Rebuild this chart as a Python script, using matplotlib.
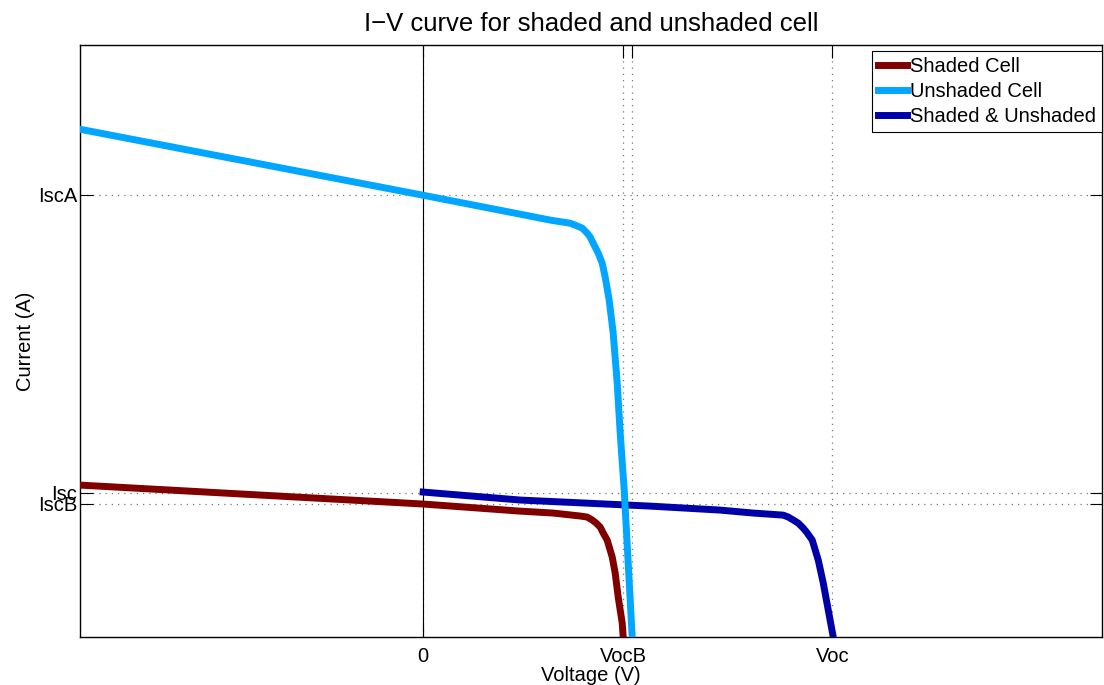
import numpy as np
import matplotlib
matplotlib.use('Agg')
from matplotlib import pyplot as plt

matplotlib.rcParams['font.family'] = ['Liberation Sans', 'DejaVu Sans']
matplotlib.rcParams['font.size'] = 14.5

# points (arbitrary units, 0 at left axis crossing)
shaded_v = [-1.029, 0.0, 0.291, 0.390, 0.471, 0.492, 0.507, 0.519, 0.531, 0.540, 0.552, 0.567, 0.576, 0.585, 0.597, 0.600]
shaded_i = [1.027, 0.899, 0.851, 0.838, 0.818, 0.811, 0.791, 0.770, 0.743, 0.703, 0.655, 0.541, 0.432, 0.270, 0.095, 0.0]

unshaded_v = [-1.029, 0.0, 0.291, 0.381, 0.441, 0.456, 0.477, 0.492, 0.501, 0.510, 0.525, 0.537,
              0.546, 0.558, 0.570, 0.582, 0.591, 0.603, 0.615, 0.627]
unshaded_i = [3.432, 2.986, 2.858, 2.818, 2.797, 2.784, 2.764, 2.730, 2.703, 2.662, 2.595, 2.527,
              2.432, 2.277, 2.054, 1.716, 1.378, 0.993, 0.5, 0.0]

both_v = [0.0, 0.291, 0.681, 0.891, 0.990, 1.080, 1.095, 1.110, 1.125, 1.140, 1.152, 1.167, 1.185, 1.200, 1.215, 1.230]
both_i = [0.980, 0.926, 0.885, 0.858, 0.838, 0.824, 0.811, 0.791, 0.770, 0.736, 0.703, 0.655, 0.520, 0.365, 0.182, 0.0]

xticks = [0.0, 0.6, 0.627, 1.227]
xticklabels = ['0', 'VocB', '', 'Voc']
yticks = [0.9, 0.975, 2.99]
yticklabels = ['IscB', 'Isc', 'IscA']

fig = plt.figure(figsize=(11.04, 6.85), dpi=100)
ax = fig.add_axes([0.0725, 0.07, 0.926, 0.864])

ax.plot(shaded_v, shaded_i, color='#800000', lw=5, label='Shaded Cell', zorder=3,
        solid_joinstyle='round')
ax.plot(unshaded_v, unshaded_i, color='#00A6FF', lw=5, label='Unshaded Cell', zorder=4,
        solid_joinstyle='round')
ax.plot(both_v, both_i, color='#0000A8', lw=5, label='Shaded & Unshaded', zorder=3,
        solid_joinstyle='round')
ax.axvline(0, color='k', lw=0.8, zorder=2)

ax.set_xlim(-1.029, 2.037)
ax.set_ylim(0, 4.0)
ax.set_xticks(xticks)
ax.set_xticklabels(xticklabels)
ax.set_yticks(yticks)
ax.set_yticklabels(yticklabels)
ax.tick_params(direction='in', top=True, right=True, length=9, width=0.8)
ax.tick_params(axis='x', pad=7)
ax.tick_params(axis='y', pad=2)
ax.grid(True, linestyle=(0, (1, 4)), color='#777777', lw=0.9)
for s in ax.spines.values():
    s.set_linewidth(1.0)

ax.set_title('I\u2212V curve for shaded and unshaded cell', fontsize=18.5, pad=10)
ax.set_xlabel('Voltage (V)', labelpad=0)
ax.set_ylabel('Current (A)', labelpad=2)

leg = ax.legend(loc='upper right', bbox_to_anchor=(1.0, 0.99), fancybox=False, edgecolor='k',
                framealpha=1, handlelength=1.45, handletextpad=0.15, borderpad=0.3,
                labelspacing=0.3, borderaxespad=0.0)
leg.get_frame().set_linewidth(0.8)

plt.savefig('out.png', dpi=100)
